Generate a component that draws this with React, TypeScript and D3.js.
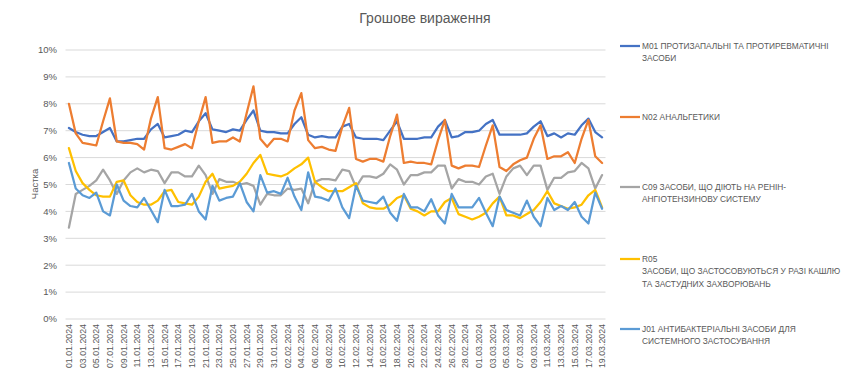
import React from "react";
import * as d3 from "d3";

const TITLE = "Грошове вираження";
const Y_TITLE = "Частка";

const startDate = new Date(2024, 0, 1);
const endDate = new Date(2024, 2, 20);
const categories: string[] = d3.timeDay.range(startDate, endDate).map(d3.timeFormat("%d.%m.%Y"));

const yTicks = [0, 1, 2, 3, 4, 5, 6, 7, 8, 9, 10];

const seriesNames = [
  ["M01 ПРОТИЗАПАЛЬНІ ТА ПРОТИРЕВМАТИЧНІ", "ЗАСОБИ"],
  ["N02 АНАЛЬГЕТИКИ"],
  ["C09 ЗАСОБИ, ЩО ДІЮТЬ НА РЕНІН-", "АНГІОТЕНЗИНОВУ СИСТЕМУ"],
  ["R05", "ЗАСОБИ, ЩО ЗАСТОСОВУЮТЬСЯ У РАЗІ КАШЛЮ", "ТА ЗАСТУДНИХ ЗАХВОРЮВАНЬ"],
  ["J01 АНТИБАКТЕРІАЛЬНІ ЗАСОБИ ДЛЯ", "СИСТЕМНОГО ЗАСТОСУВАННЯ"],
];

const colors = ["#4472C4", "#ED7D31", "#A5A5A5", "#FFC000", "#5B9BD5"];

const m01 = [
  7.1, 6.95, 6.85, 6.8, 6.8, 6.95, 7.1, 6.6, 6.6, 6.65, 6.7, 6.7, 7.05, 7.25, 6.75, 6.8, 6.85, 7.0, 6.95, 7.35,
  7.65, 7.05, 7.0, 6.95, 7.05, 7.0, 7.4, 7.75, 7.0, 6.95, 6.95, 6.9, 6.9, 7.25, 7.5, 6.85, 6.75, 6.8, 6.75, 6.75,
  7.15, 7.25, 6.75, 6.7, 6.7, 6.7, 6.65, 7.0, 7.35, 6.7, 6.7, 6.7, 6.75, 6.75, 7.15, 7.4, 6.75, 6.8, 6.95, 6.95,
  7.0, 7.25, 7.4, 6.85, 6.85, 6.85, 6.85, 6.9, 7.15, 7.35, 6.8, 6.9, 6.75, 6.9, 6.85, 7.2, 7.45, 6.95, 6.75,
];
const n02 = [
  8.0, 6.9, 6.55, 6.5, 6.45, 7.35, 8.2, 6.6, 6.55, 6.55, 6.5, 6.3, 7.45, 8.25, 6.35, 6.3, 6.4, 6.5, 6.35, 7.35,
  8.25, 6.55, 6.6, 6.6, 6.75, 6.6, 7.65, 8.65, 6.7, 6.4, 6.7, 6.7, 6.6, 7.75, 8.4, 6.65, 6.35, 6.4, 6.3, 6.25,
  7.15, 7.85, 5.95, 5.85, 5.95, 5.95, 5.85, 6.8, 7.6, 5.8, 5.85, 5.8, 5.8, 5.75, 6.65, 7.4, 5.7, 5.6, 5.7, 5.7,
  5.65, 6.45, 7.2, 5.65, 5.5, 5.75, 5.9, 6.0, 6.7, 7.2, 5.95, 6.05, 6.05, 6.2, 5.8, 6.7, 7.4, 6.05, 5.8,
];
const c09 = [
  3.4, 4.65, 4.8, 4.95, 5.15, 5.55, 5.15, 4.65, 5.15, 5.45, 5.6, 5.45, 5.55, 5.5, 5.05, 5.45, 5.45, 5.3, 5.3, 5.7,
  5.35, 4.65, 5.2, 5.1, 5.1, 5.0, 5.05, 4.95, 4.25, 4.65, 4.6, 4.6, 4.85, 4.8, 4.85, 4.3, 5.1, 5.2, 5.2, 5.15,
  5.55, 5.5, 4.9, 5.3, 5.3, 5.25, 5.4, 5.75, 5.55, 5.0, 5.35, 5.35, 5.45, 5.45, 5.7, 5.7, 4.85, 5.2, 5.1, 5.1,
  5.0, 5.3, 5.4, 4.65, 5.3, 5.6, 5.7, 5.35, 5.7, 5.7, 4.8, 5.25, 5.25, 5.45, 5.5, 5.8, 5.6, 4.85, 5.35,
];
const r05 = [
  6.35, 5.5, 5.05, 4.8, 4.6, 4.55, 4.55, 5.1, 5.15, 4.6, 4.35, 4.25, 4.25, 4.4, 4.75, 4.8, 4.35, 4.3, 4.25, 4.55,
  5.1, 5.4, 4.85, 4.9, 4.95, 5.1, 5.4, 5.8, 6.1, 5.4, 5.35, 5.3, 5.4, 5.6, 5.75, 6.0, 5.1, 4.9, 4.75, 4.75,
  4.75, 4.9, 5.05, 4.3, 4.15, 4.1, 4.1, 4.25, 4.5, 4.6, 4.1, 4.0, 3.85, 4.0, 4.0, 4.35, 4.5, 3.9, 3.8, 3.7,
  3.8, 3.95, 4.3, 4.55, 3.85, 3.85, 3.75, 3.9, 4.05, 4.35, 4.75, 4.3, 4.2, 4.1, 4.15, 4.25, 4.6, 4.8, 4.15,
];
const j01 = [
  5.8, 4.85, 4.6, 4.5, 4.7, 4.0, 3.85, 5.0, 4.4, 4.2, 4.15, 4.5, 4.05, 3.6, 4.8, 4.2, 4.2, 4.25, 4.65, 4.0,
  3.7, 4.95, 4.4, 4.5, 4.55, 5.05, 4.35, 4.0, 5.35, 4.7, 4.75, 4.65, 5.25, 4.55, 4.05, 5.45, 4.55, 4.5, 4.4, 4.85,
  4.15, 3.75, 4.95, 4.4, 4.35, 4.3, 4.55, 3.95, 3.65, 4.65, 4.15, 4.15, 4.0, 4.45, 3.85, 3.55, 4.65, 4.15, 4.15, 4.15,
  4.5, 3.95, 3.45, 4.55, 4.05, 3.95, 3.85, 4.4, 3.8, 3.45, 4.5, 4.05, 4.2, 4.05, 4.35, 3.8, 3.55, 4.7, 4.1,
];

const seriesValues = [m01, n02, c09, r05, j01];

const W = 850;
const H = 392;
const FONT = "'Liberation Sans', Arial, sans-serif";
const TEXT = "#595959";

export default function App() {
  const x = d3.scalePoint<string>().domain(categories).range([65.5, 605.5]).padding(0.5);
  const y = d3.scaleLinear().domain([0, 10]).range([319, 50]);
  const line = d3
    .line<number>()
    .x((_, i) => x(categories[i]) as number)
    .y((d) => y(d));

  const legendTops = [46, 117, 187, 259, 329];

  return (
    <svg width={W} height={H} style={{ position: "absolute", left: 0, top: 0, background: "#fff" }}>
      <text x={425} y={23} textAnchor="middle" fontFamily={FONT} fontSize={14} fill={TEXT}>
        {TITLE}
      </text>
      {yTicks.map((t) => (
        <g key={t}>
          <line x1={65.5} x2={605.5} y1={y(t)} y2={y(t)} stroke="#D9D9D9" strokeWidth={1} />
          <text x={57} y={y(t)} dy="0.35em" textAnchor="end" fontFamily={FONT} fontSize={9.5} fill={TEXT}>
            {t}%
          </text>
        </g>
      ))}
      <text
        transform={`translate(35,184) rotate(-90)`}
        textAnchor="middle"
        dy="0.35em"
        fontFamily={FONT}
        fontSize={9.5}
        fill={TEXT}
      >
        {Y_TITLE}
      </text>
      {categories.map((c, i) =>
        i % 2 === 0 ? (
          <text
            key={c}
            transform={`translate(${x(c)},324) rotate(-90)`}
            textAnchor="end"
            dy="0.35em"
            fontFamily={FONT}
            fontSize={8.8}
            fill={TEXT}
          >
            {c}
          </text>
        ) : null
      )}
      {seriesValues.map((vals, s) => (
        <path
          key={s}
          d={line(vals) || ""}
          fill="none"
          stroke={colors[s]}
          strokeWidth={2.25}
          strokeLinejoin="round"
          strokeLinecap="round"
        />
      ))}
      {seriesNames.map((lines, s) => (
        <g key={s}>
          <line x1={620} x2={640} y1={legendTops[s]} y2={legendTops[s]} stroke={colors[s]} strokeWidth={2.25} />
          {lines.map((ln, k) => (
            <text
              key={k}
              x={642}
              y={legendTops[s] + k * 12.3}
              dy="0.35em"
              fontFamily={FONT}
              fontSize={8.35}
              fill={TEXT}
            >
              {ln}
            </text>
          ))}
        </g>
      ))}
    </svg>
  );
}
